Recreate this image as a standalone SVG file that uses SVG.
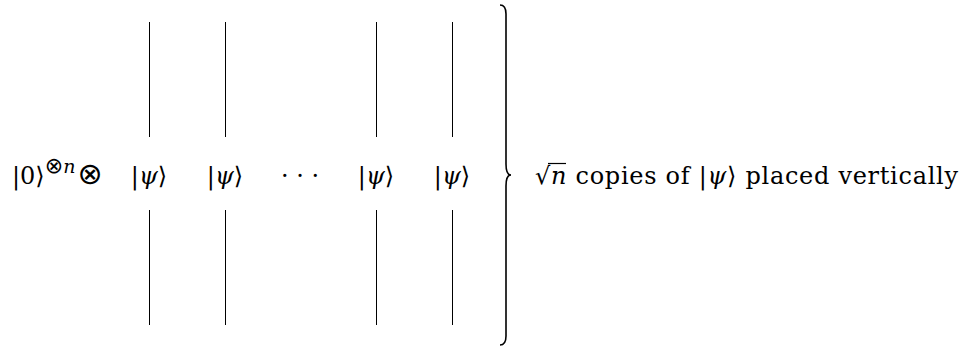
<svg xmlns="http://www.w3.org/2000/svg" width="966" height="350" viewBox="0 0 966 350">
<style>
text{font-family:"DejaVu Serif",serif;font-size:24px;fill:#000}
.i{font-style:italic}
.w{stroke:#000;stroke-width:1;fill:none}
</style>
<rect width="966" height="350" fill="#fff"/>
<g id="connectors">
<line class="w" x1="149.5" y1="22" x2="149.5" y2="137"/>
<line class="w" x1="149.5" y1="210" x2="149.5" y2="325"/>
<line class="w" x1="225.5" y1="22" x2="225.5" y2="137"/>
<line class="w" x1="225.5" y1="210" x2="225.5" y2="325"/>
<line class="w" x1="376.5" y1="22" x2="376.5" y2="137"/>
<line class="w" x1="376.5" y1="210" x2="376.5" y2="325"/>
<line class="w" x1="452.5" y1="22" x2="452.5" y2="137"/>
<line class="w" x1="452.5" y1="210" x2="452.5" y2="325"/>
</g>
<g id="init">
<text font-family="DejaVu Serif" x="12" y="184">|0⟩<tspan dy="-11" font-size="22" font-family="DejaVu Sans">⊗</tspan><tspan class="i" font-size="19">n</tspan><tspan dy="11" dx="2" font-size="30" font-family="DejaVu Sans">⊗</tspan></text>
</g>
<g id="psi1"><text font-family="DejaVu Serif" x="149" y="184" text-anchor="middle">|<tspan class="i">ψ</tspan>⟩</text></g>
<g id="psi2"><text font-family="DejaVu Serif" x="225" y="184" text-anchor="middle">|<tspan class="i">ψ</tspan>⟩</text></g>
<g id="dots"><text font-family="DejaVu Serif" x="300" y="184" text-anchor="middle">· · ·</text></g>
<g id="psi3"><text font-family="DejaVu Serif" x="376" y="184" text-anchor="middle">|<tspan class="i">ψ</tspan>⟩</text></g>
<g id="psi4"><text font-family="DejaVu Serif" x="452" y="184" text-anchor="middle">|<tspan class="i">ψ</tspan>⟩</text></g>
<g id="brace">
<path d="M500,5 Q506,5 506,14 L506,164 Q506,175 511,175 Q506,175 506,186 L506,336 Q506,345 500,345" fill="none" stroke="#000" stroke-width="1.6"/>
</g>
<g id="label">
<text font-family="DejaVu Serif" x="535" y="184" textLength="423" lengthAdjust="spacing">√<tspan class="i">n</tspan> copies of |<tspan class="i">ψ</tspan>⟩ placed vertically</text>
<line x1="548" y1="163.5" x2="566" y2="163.5" stroke="#000" stroke-width="1.2"/>
</g>
</svg>
